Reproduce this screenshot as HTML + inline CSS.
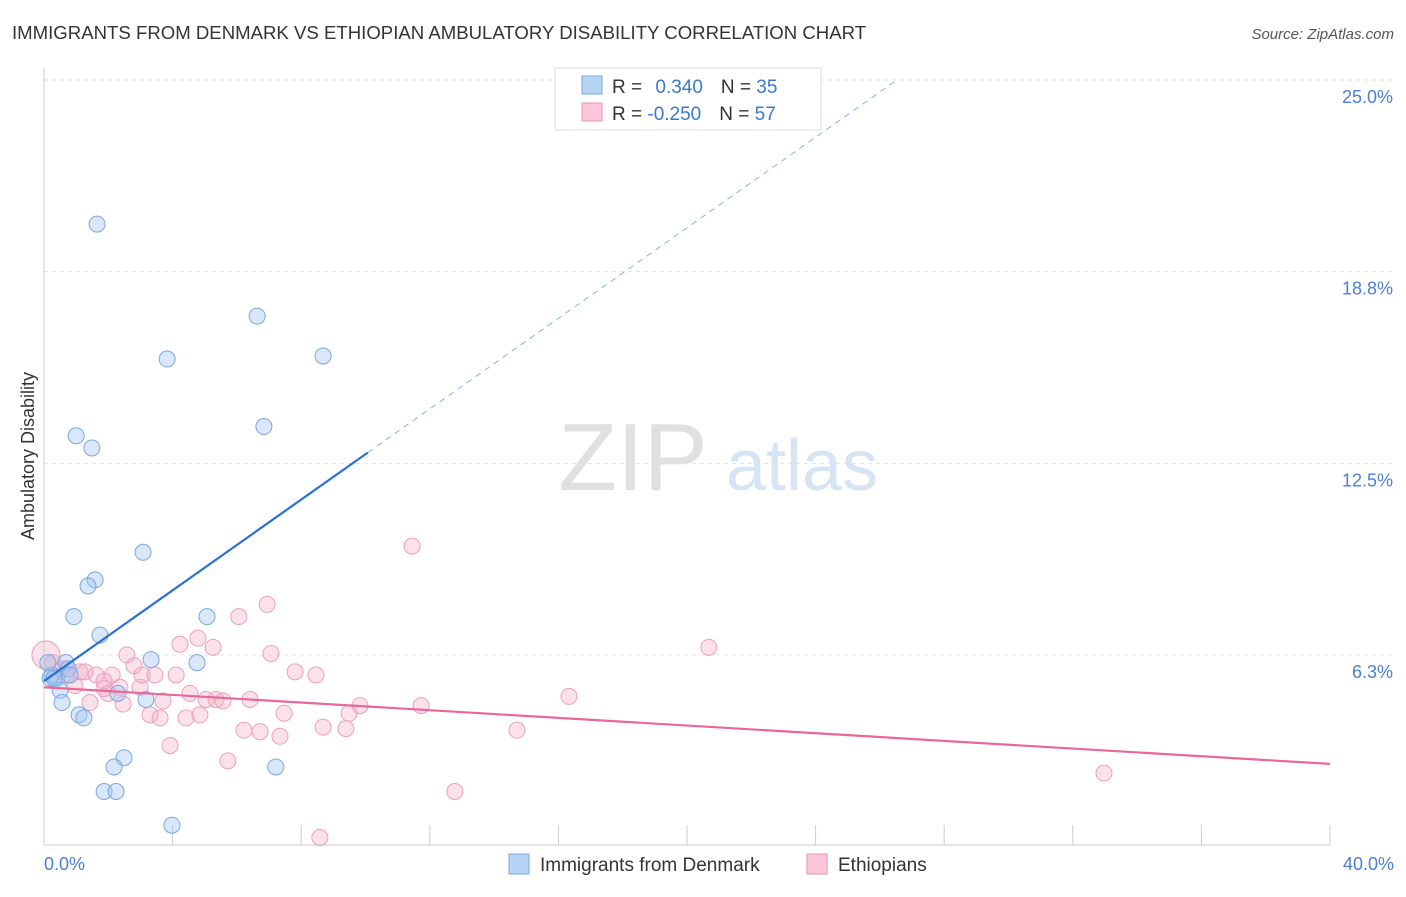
<!DOCTYPE html>
<html><head><meta charset="utf-8"><style>
body{margin:0;background:#fff;font-family:"Liberation Sans",sans-serif}
svg text{font-family:"Liberation Sans",sans-serif}
</style></head><body>
<svg id="chart" width="1406" height="892" viewBox="0 0 1406 892">
<text x="12" y="39" font-size="18.6" fill="#333">IMMIGRANTS FROM DENMARK VS ETHIOPIAN AMBULATORY DISABILITY CORRELATION CHART</text>
<text x="1394" y="39" font-size="15" fill="#555" font-style="italic" text-anchor="end">Source: ZipAtlas.com</text>
<g id="grid"></g>
<g><text x="633" y="490" font-size="96" fill="#e0e0e0" font-family="Liberation Serif" text-anchor="middle">ZIP</text><text x="802" y="490" font-size="72" fill="#d6e4f4" text-anchor="middle">atlas</text></g>
<line x1="44" y1="68" x2="44" y2="845" stroke="#ccc"/>
<line x1="44" y1="845" x2="1330" y2="845" stroke="#ccc"/>
<g id="xticks"></g>
<g id="yticks"></g>
<text x="44" y="870" font-size="18" fill="#4a7fd4">0.0%</text>
<text x="1394" y="870" font-size="18" fill="#4a7fd4" text-anchor="end">40.0%</text>
<text transform="translate(34,456) rotate(-90)" font-size="18" fill="#333" text-anchor="middle">Ambulatory Disability</text>
<g id="pink"></g>
<g id="blue"></g>
<g id="trends"></g>
<g>
<rect x="555" y="68" width="266" height="62" fill="#fff" stroke="#ddd"/>
<rect x="582" y="76" width="20" height="18" fill="#b8d4f4" stroke="#7aa8e0"/>
<rect x="582" y="103" width="20" height="18" fill="#fcc8d8" stroke="#e890b0"/>
<text x="612" y="93" font-size="19" fill="#333">R = <tspan fill="#3a78d0" dx="8">0.340</tspan><tspan dx="18">N = </tspan><tspan fill="#3a78d0">35</tspan></text>
<text x="612" y="120" font-size="19" fill="#333">R = <tspan fill="#3a78d0">-0.250</tspan><tspan dx="18">N = </tspan><tspan fill="#3a78d0">57</tspan></text>
</g>
<g>
<rect x="509" y="854" width="20" height="20" fill="#b8d4f4" stroke="#7aa8e0"/>
<text x="540" y="871" font-size="19" fill="#333">Immigrants from Denmark</text>
<rect x="807" y="854" width="20" height="20" fill="#fcc8d8" stroke="#e890b0"/>
<text x="838" y="871" font-size="19" fill="#333">Ethiopians</text>
</g>
</svg>
<script>
const yTicks=[6.25,12.5,18.75,25];
const yTickLabels=["6.3%","12.5%","18.8%","25.0%"];
const blueX=[1.65,6.63,3.83,8.68,6.84,1.0,1.49,3.08,1.59,1.37,0.93,5.07,1.74,3.33,4.76,0.68,0.75,0.25,0.40,0.50,0.81,0.56,2.30,3.17,1.09,1.24,2.49,2.18,7.21,1.87,2.24,3.98,0.12,0.19,0.31];
const blueY=[20.3,17.3,15.9,16.0,13.7,13.4,13.0,9.6,8.7,8.5,7.5,7.5,6.9,6.1,6.0,6.0,5.8,5.6,5.5,5.1,5.6,4.7,5.0,4.8,4.3,4.2,2.9,2.6,2.6,1.8,1.8,0.7,6.0,5.5,5.5];
const pinkX=[0.06,0.28,0.56,0.72,0.96,1.12,1.62,1.87,1.99,2.12,2.36,2.46,2.58,2.80,2.99,3.05,3.30,3.45,3.61,3.70,3.92,4.11,4.23,4.42,4.54,4.79,4.85,5.04,5.26,5.35,5.57,5.72,6.06,6.22,6.41,6.72,6.94,7.06,7.34,7.47,7.81,8.46,8.58,8.68,9.39,9.49,9.83,11.45,11.73,12.78,14.71,16.33,20.68,32.97,1.43,1.28,1.87];
const pinkY=[6.25,6.0,5.8,5.6,5.25,5.7,5.6,5.15,5.0,5.6,5.2,4.65,6.25,5.9,5.2,5.6,4.3,5.6,4.2,4.75,3.3,5.6,6.6,4.2,5.0,6.8,4.3,4.8,6.5,4.8,4.75,2.8,7.5,3.8,4.8,3.75,7.9,6.3,3.6,4.35,5.7,5.6,0.3,3.9,3.85,4.35,4.6,9.8,4.6,1.8,3.8,4.9,6.5,2.4,4.7,5.7,5.4];
const X=v=>44+v*32.15, Y=v=>846.7-v*30.67;
const NS='http://www.w3.org/2000/svg';
function mk(t,a,p){const e=document.createElementNS(NS,t);for(const k in a)e.setAttribute(k,a[k]);p.appendChild(e);return e;}
const grid=document.getElementById('grid'),yt=document.getElementById('yticks');
yTicks.forEach((v,i)=>{
 const l=mk('line',{x1:44,x2:1394,y1:Y(v),y2:Y(v),stroke:'#e2e2e2','stroke-dasharray':'4,4'},grid);
 
 
 const t=mk('text',{x:1393,y:Y(v)+23,'font-size':18,fill:'#4a7fd4','text-anchor':'end'},yt);
 t.textContent=yTickLabels[i];
 
 
});
const xt=document.getElementById('xticks');
for(let i=0;i<=10;i++){const l=mk('line',{x1:X(i*4),x2:X(i*4),y1:825,y2:845,stroke:'#ccc'},xt);
 
 }
const pg=document.getElementById('pink');
pinkX.forEach((x,i)=>{const c=mk('circle',{cx:X(x),cy:Y(pinkY[i]),r:i==0?14:8,fill:'rgba(244,170,196,0.35)',stroke:'#eca0bc','stroke-width':1},pg);
 
 });
const bg=document.getElementById('blue');
blueX.forEach((x,i)=>{const c=mk('circle',{cx:X(x),cy:Y(blueY[i]),r:8,fill:'rgba(160,196,240,0.4)',stroke:'#7aa8e0','stroke-width':1},bg);
 
 });
const tg=document.getElementById('trends');
let e=mk('line',{x1:X(0),y1:Y(5.4),x2:X(10.07),y2:Y(12.85),stroke:'#2a6fd6','stroke-width':2.2},tg);


e=mk('line',{x1:X(10.07),y1:Y(12.85),x2:X(26.53),y2:Y(25),stroke:'#8ab0e4','stroke-width':1,'stroke-dasharray':'6,5'},tg);


e=mk('line',{x1:X(0),y1:Y(5.2),x2:X(40),y2:Y(2.7),stroke:'#e8689a','stroke-width':2.2},tg);


</script>
</body></html>
